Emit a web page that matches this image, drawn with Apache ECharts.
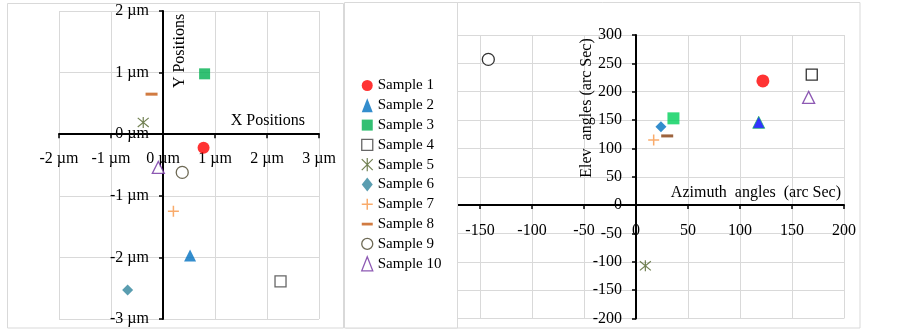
<!DOCTYPE html>
<html>
<head>
<meta charset="utf-8">
<script src="https://cdn.jsdelivr.net/npm/echarts@6/dist/echarts.min.js"></script>
<style>
  body { margin: 0; background: #fff; }
  #main { width: 903px; height: 331px; }
</style>
</head>
<body>
<div id="main"></div>
<script>
var sampleNames = ['Sample 1', 'Sample 2', 'Sample 3', 'Sample 4', 'Sample 5',
                   'Sample 6', 'Sample 7', 'Sample 8', 'Sample 9', 'Sample 10'];
// left chart, positions in um
var posX = [0.78, 0.52, 0.80, 2.26, -0.38, -0.68, 0.20, -0.22, 0.37, -0.09];
var posY = [-0.22, -1.97, 0.98, -2.39, 0.19, -2.53, -1.25, 0.65, -0.62, -0.54];
// right chart, angles in arc sec
var azimuth = [122, 118, 36, 169, 9, 24, 17, 30, -142, 166];
var elev = [219, 146, 153, 230, -107, 138, 115, 122, 257, 190];

var FONT = 'Liberation Serif';
var ASTER = 'path://M0 0L10 10M10 0L0 10M5 -1L5 11';
var PLUS = 'path://M5 0L5 10M0 5L10 5';
var SQUARE = 'path://M0 0H10V10H0Z';

// marker styles (left chart / legend)
var leftMarks = [
  { symbol: 'circle', size: 12, color: '#FF0000' },
  { symbol: 'triangle', size: 12, color: '#0070C0' },
  { symbol: 'rect', size: 11, color: '#00B050' },
  { symbol: 'rect', size: 11, color: '#fff', border: '#404040', bw: 1.3 },
  { symbol: ASTER, size: 11, color: 'transparent', border: '#4F6228', bw: 1.2 },
  { symbol: 'diamond', size: 11, color: '#31859C' },
  { symbol: PLUS, size: 11, color: 'transparent', border: '#F79646', bw: 1.5 },
  { symbol: 'rect', size: [12, 3], color: '#C55A11' },
  { symbol: 'circle', size: 12, color: '#fff', border: '#494429', bw: 1.3 },
  { symbol: 'triangle', size: 12, color: '#fff', border: '#7030A0', bw: 1.3 }
];
var rightMarks = [
  { symbol: 'circle', size: 13, color: '#FF0000' },
  { symbol: 'triangle', size: 12, color: '#0000FF', border: '#00B050', bw: 0.8 },
  { symbol: 'rect', size: 12, color: '#00D05A' },
  { symbol: 'rect', size: 11, color: '#fff', border: '#000', bw: 1.3 },
  { symbol: ASTER, size: 11, color: 'transparent', border: '#4F6228', bw: 1.2 },
  { symbol: 'diamond', size: 11, color: '#0070C0' },
  { symbol: PLUS, size: 11, color: 'transparent', border: '#F79646', bw: 1.5 },
  { symbol: 'rect', size: [12, 3], color: '#843C0C' },
  { symbol: 'circle', size: 12, color: '#fff', border: '#000', bw: 1.3 },
  { symbol: 'triangle', size: 12, color: '#fff', border: '#7030A0', bw: 1.3 }
];

function markStyle(m) {
  return { color: m.color, borderColor: m.border || m.color, borderWidth: m.bw || 0 };
}

function makeSeries(xs, ys, marks, idx) {
  return sampleNames.map(function (name, i) {
    return {
      name: name,
      type: 'scatter',
      xAxisIndex: idx,
      yAxisIndex: idx,
      data: [[xs[i], ys[i]]],
      symbol: marks[i].symbol,
      symbolSize: marks[i].size,
      itemStyle: markStyle(marks[i]),
      emphasis: { disabled: true }
    };
  });
}

var legendData = sampleNames.map(function (name, i) {
  var m = leftMarks[i];
  var icon = m.symbol;
  if (name === 'Sample 8') icon = 'path://M0 0H12V3H0Z';
  if (icon === 'rect') icon = SQUARE;
  return { name: name, icon: icon, itemStyle: markStyle(m) };
});

// axes cross at zero: shift each axis from the grid edge with offset
function axisCommon(offset, margin, fmt) {
  return {
    offset: offset,
    axisLine: { onZero: false, lineStyle: { color: '#000', width: 2 } },
    axisTick: { show: true, inside: false, length: 4, lineStyle: { color: '#000', width: 1.5 } },
    axisLabel: { fontFamily: FONT, fontSize: 16, color: '#000', margin: margin, formatter: fmt },
    splitLine: { show: true, lineStyle: { color: '#D9D9D9', width: 1 } }
  };
}
function um(v) { return v + ' µm'; }

var myChart = echarts.init(document.getElementById('main'));
var option = {
  animation: false,
  backgroundColor: '#fff',
  legend: {
    orient: 'vertical',
    left: 356,
    top: 73,
    itemWidth: 11,
    itemHeight: 14,
    itemGap: 4.8,
    z: 6,
    selectedMode: false,
    textStyle: { fontFamily: FONT, fontSize: 15, color: '#000', lineHeight: 14 },
    data: legendData
  },
  grid: [
    { left: 59, top: 11, width: 260, height: 308 },
    { left: 428, top: 35, width: 416, height: 283.5 }
  ],
  xAxis: [
    Object.assign({ type: 'value', gridIndex: 0, position: 'bottom', min: -2, max: 3, interval: 1 }, axisCommon(-184.8, 17, um)),
    Object.assign({ type: 'value', gridIndex: 1, position: 'bottom', min: -200, max: 200, interval: 50 }, axisCommon(-113.4, 18))
  ],
  yAxis: [
    Object.assign({ type: 'value', gridIndex: 0, position: 'left', min: -3, max: 2, interval: 1 }, axisCommon(-104, 14, um)),
    Object.assign({ type: 'value', gridIndex: 1, position: 'left', min: -200, max: 300, interval: 50 }, axisCommon(-208, 14))
  ],
  series: makeSeries(posX, posY, leftMarks, 0).concat(makeSeries(azimuth, elev, rightMarks, 1)),
  graphic: {
    elements: [
      { type: 'rect', z: -1, silent: true, shape: { x: 7.5, y: 3.5, width: 336, height: 324.5 },
        style: { fill: 'none', stroke: '#D9D9D9', lineWidth: 1 } },
      { type: 'rect', z: -1, silent: true, shape: { x: 345.5, y: 2.5, width: 514.5, height: 325.5 },
        style: { fill: 'none', stroke: '#D9D9D9', lineWidth: 1 } },
      // legend box sits over the left part of the right chart
      { type: 'rect', z: 5, silent: true, shape: { x: 344.5, y: 2.5, width: 113, height: 325.5 },
        style: { fill: '#fff', stroke: '#D9D9D9', lineWidth: 1 } },
      { type: 'text', z: 5, silent: true, x: 305, y: 121,
        style: { text: 'X Positions', font: '16px "Liberation Serif"', fill: '#000', align: 'right', verticalAlign: 'middle' } },
      { type: 'text', z: 5, silent: true, x: 180, y: 51, rotation: Math.PI / 2,
        style: { text: 'Y Positions', font: '16px "Liberation Serif"', fill: '#000', align: 'center', verticalAlign: 'middle' } },
      { type: 'text', z: 5, silent: true, x: 841, y: 193,
        style: { text: 'Azimuth  angles  (arc Sec)', font: '16px "Liberation Serif"', fill: '#000', align: 'right', verticalAlign: 'middle' } },
      { type: 'text', z: 5, silent: true, x: 587, y: 108, rotation: Math.PI / 2,
        style: { text: 'Elev  angles (arc Sec)', font: '16px "Liberation Serif"', fill: '#000', align: 'center', verticalAlign: 'middle' } }
    ]
  }
};
myChart.setOption(option);
window.addEventListener('resize', function () {
  myChart.resize();
});
</script>
</body>
</html>
